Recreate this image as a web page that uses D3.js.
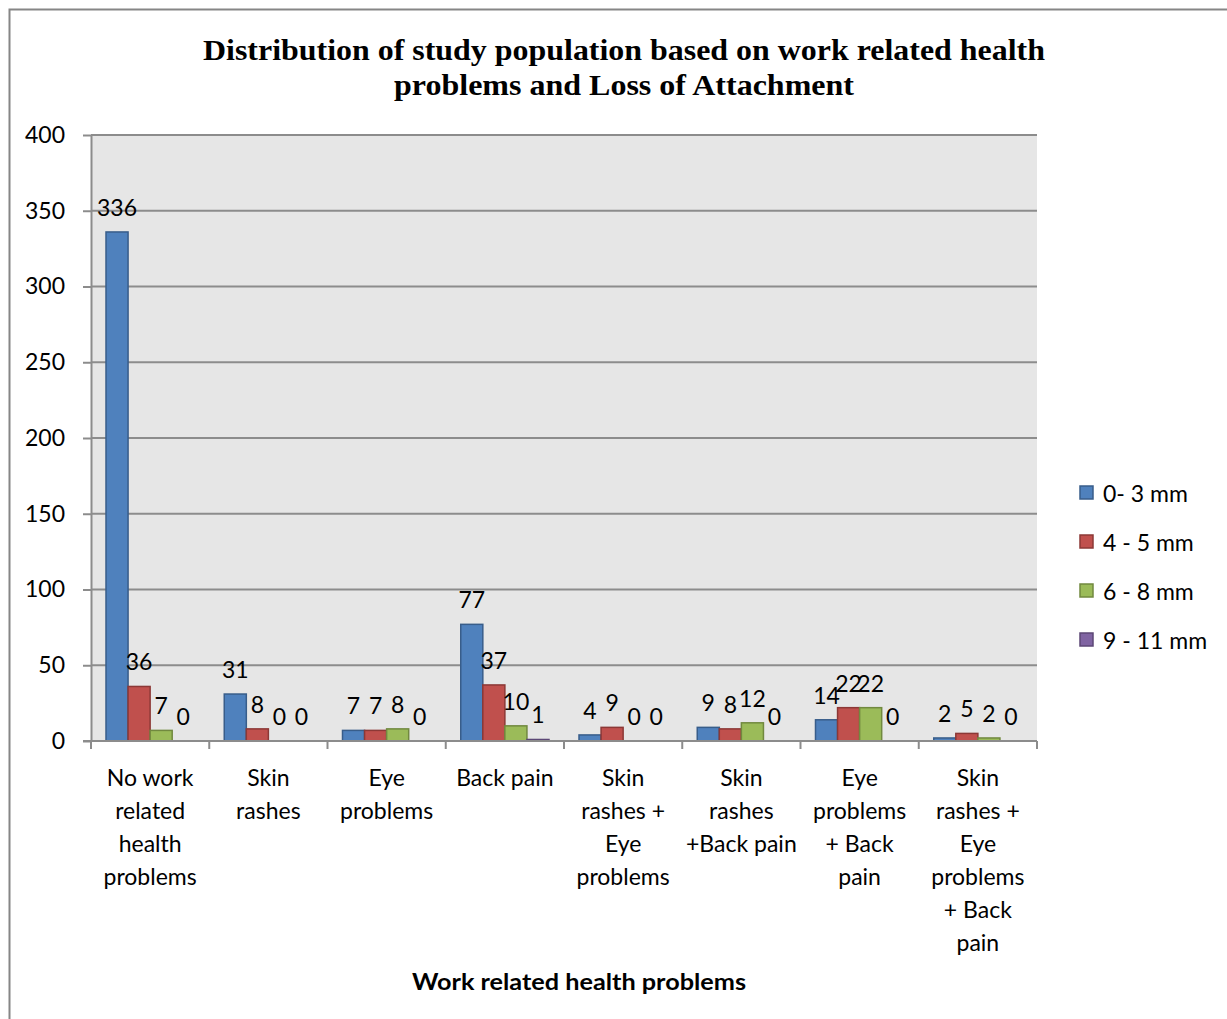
<!DOCTYPE html>
<html>
<head>
<meta charset="utf-8">
<script src="https://cdn.jsdelivr.net/npm/d3@7/dist/d3.min.js"></script>
<style>
  html, body { margin: 0; padding: 0; background: #fff; }
  svg { display: block; }
</style>
</head>
<body>
<svg id="chart" width="1227" height="1019"></svg>
<script>
// Categories (each entry is a list of wrapped label lines)
const categories = [
  ["No work", "related", "health", "problems"],
  ["Skin", "rashes"],
  ["Eye", "problems"],
  ["Back pain"],
  ["Skin", "rashes +", "Eye", "problems"],
  ["Skin", "rashes", "+Back pain"],
  ["Eye", "problems", "+ Back", "pain"],
  ["Skin", "rashes +", "Eye", "problems", "+ Back", "pain"]
];

// Loss of attachment groups
const seriesNames = ["0- 3 mm", "4 - 5 mm", "6 - 8 mm", "9 - 11 mm"];

// Counts per category for each series
const s0to3 = [336, 31, 7, 77, 4, 9, 14, 2];
const s4to5 = [36, 8, 7, 37, 9, 8, 22, 5];
const s6to8 = [7, 0, 8, 10, 0, 12, 22, 2];
const s9to11 = [0, 0, 0, 1, 0, 0, 0, 0];

const yTicks = [0, 50, 100, 150, 200, 250, 300, 350, 400];

const titleLines = [
  "Distribution of study population based on work related health",
  "problems and Loss of Attachment"
];
const xTitle = "Work related health problems";

const seriesValues = [s0to3, s4to5, s6to8, s9to11];
const fills = ["#4f81bd", "#c0504d", "#9bbb59", "#8064a2"];
const strokes = ["#385d8a", "#8c3836", "#71893f", "#5c4776"];

const svg = d3.select("#chart");
const font = "Lato, 'Open Sans', sans-serif";
const fs = 23;

// Outer chart frame
svg.append("rect")
  .attr("x", 9.5).attr("y", 9.5)
  .attr("width", 1240).attr("height", 1030)
  .attr("fill", "#fff").attr("stroke", "#868686").attr("stroke-width", 2);

const plot = { left: 91, right: 1037, top: 135, bottom: 741 };

const x0 = d3.scaleBand()
  .domain(d3.range(categories.length))
  .range([plot.left, plot.right])
  .paddingInner(0).paddingOuter(0);

const x1 = d3.scaleBand()
  .domain(d3.range(seriesNames.length))
  .range([0, x0.bandwidth()])
  .paddingOuter(0.68).paddingInner(0);

const y = d3.scaleLinear().domain([0, 400]).range([plot.bottom, plot.top]);

// Plot background
svg.append("rect")
  .attr("x", plot.left).attr("y", plot.top)
  .attr("width", plot.right - plot.left).attr("height", plot.bottom - plot.top)
  .attr("fill", "#e6e6e6");

// Gridlines
svg.append("g").selectAll("line")
  .data(yTicks.filter(t => t > 0))
  .join("line")
  .attr("x1", plot.left).attr("x2", plot.right)
  .attr("y1", d => y(d)).attr("y2", d => y(d))
  .attr("stroke", "#8c8c8c").attr("stroke-width", 2);

// Y axis
const yAxis = svg.append("g")
  .attr("transform", `translate(${plot.left},0)`)
  .call(d3.axisLeft(y).tickValues(yTicks).tickSize(8).tickPadding(18).tickSizeOuter(0));
yAxis.select(".domain").attr("stroke", "#8c8c8c").attr("stroke-width", 2);
yAxis.selectAll(".tick line").attr("stroke", "#8c8c8c").attr("stroke-width", 2);
yAxis.selectAll(".tick text")
  .attr("font-family", font).attr("font-size", fs).attr("fill", "#000");

// Bars
const groups = svg.append("g").selectAll("g")
  .data(categories.map((c, i) => i))
  .join("g")
  .attr("transform", i => `translate(${x0(i)},0)`);

groups.selectAll("rect")
  .data(i => seriesValues.map((vals, s) => ({ s, v: vals[i] })))
  .join("rect")
  .attr("x", d => x1(d.s))
  .attr("y", d => y(d.v))
  .attr("width", x1.bandwidth())
  .attr("height", d => y(0) - y(d.v))
  .attr("fill", d => fills[d.s])
  .attr("stroke", d => strokes[d.s])
  .attr("stroke-width", 1.5);

// Value labels
groups.selectAll("text")
  .data(i => seriesValues.map((vals, s) => ({ s, v: vals[i] })))
  .join("text")
  .attr("x", d => x1(d.s) + x1.bandwidth() / 2)
  .attr("y", d => y(d.v) - 16)
  .attr("text-anchor", "middle")
  .attr("font-family", font).attr("font-size", fs).attr("fill", "#000")
  .text(d => d.v);

// X axis
const xAxis = svg.append("g")
  .attr("transform", `translate(0,${plot.bottom})`);
xAxis.append("line")
  .attr("x1", plot.left - 8).attr("x2", plot.right)
  .attr("stroke", "#8c8c8c").attr("stroke-width", 2);
xAxis.selectAll("line.tk")
  .data(d3.range(categories.length + 1))
  .join("line")
  .attr("class", "tk")
  .attr("x1", i => i < categories.length ? x0(i) : plot.right)
  .attr("x2", i => i < categories.length ? x0(i) : plot.right)
  .attr("y1", 0).attr("y2", 8)
  .attr("stroke", "#8c8c8c").attr("stroke-width", 2);

// Category labels
const catText = svg.append("g").selectAll("text")
  .data(categories)
  .join("text")
  .attr("text-anchor", "middle")
  .attr("font-family", font).attr("font-size", fs).attr("fill", "#000");
catText.each(function (lines, i) {
  d3.select(this).selectAll("tspan")
    .data(lines)
    .join("tspan")
    .attr("x", x0(i) + x0.bandwidth() / 2)
    .attr("y", (d, k) => 786 + k * 33)
    .text(d => d);
});

// X axis title
svg.append("text")
  .attr("x", 579).attr("y", 990)
  .attr("text-anchor", "middle")
  .attr("font-family", font).attr("font-size", fs).attr("font-weight", "bold")
  .attr("fill", "#000")
  .attr("textLength", 334).attr("lengthAdjust", "spacingAndGlyphs")
  .text(xTitle);

// Chart title
svg.append("g").selectAll("text")
  .data(titleLines)
  .join("text")
  .attr("x", 624)
  .attr("y", (d, i) => 60 + i * 35)
  .attr("text-anchor", "middle")
  .attr("font-family", "'Liberation Serif', 'Times New Roman', serif")
  .attr("font-weight", "bold").attr("font-size", 29)
  .attr("fill", "#000")
  .attr("textLength", (d, i) => i === 0 ? 842 : 460)
  .attr("lengthAdjust", "spacingAndGlyphs")
  .text(d => d);

// Legend
const legend = svg.append("g").selectAll("g")
  .data(seriesNames)
  .join("g")
  .attr("transform", (d, i) => `translate(1080,${486 + i * 49})`);
legend.append("rect")
  .attr("x", 0).attr("y", 0).attr("width", 13).attr("height", 13)
  .attr("fill", (d, i) => fills[i])
  .attr("stroke", (d, i) => strokes[i]).attr("stroke-width", 1.5);
legend.append("text")
  .attr("x", 23).attr("y", 16)
  .attr("font-family", font).attr("font-size", fs).attr("fill", "#000")
  .text(d => d);
</script>
</body>
</html>
